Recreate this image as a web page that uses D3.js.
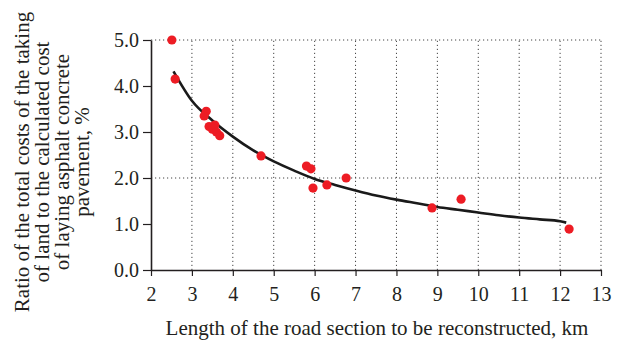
<!DOCTYPE html>
<html>
<head>
<meta charset="utf-8">
<script src="https://cdn.jsdelivr.net/npm/d3@7"></script>
<style>
  body { margin: 0; background: #fff; }
  svg text { font-family: "Liberation Serif", "DejaVu Serif", serif; fill: #231f20; }
</style>
</head>
<body>
<svg id="viz" width="628" height="343"></svg>
<script>
// observed points (length km, ratio %)
const pointX = [2.51, 2.59, 3.35, 3.30, 3.42, 3.50, 3.56, 3.60, 3.68, 4.69, 5.80, 5.91, 5.96, 6.30, 6.77, 8.87, 9.58, 12.22];
const pointY = [5.00, 4.15, 3.45, 3.35, 3.12, 3.06, 3.15, 3.00, 2.92, 2.48, 2.26, 2.20, 1.78, 1.85, 2.00, 1.35, 1.54, 0.89];

// trend line
const trendX = [2.55, 3.0, 3.5, 4.0, 4.5, 5.0, 5.5, 6.0, 6.5, 7.0, 7.5, 8.0, 8.5, 9.0, 9.5, 10.0, 10.5, 11.0, 11.5, 12.0, 12.15];
const trendY = [4.32, 3.68, 3.25, 2.90, 2.60, 2.36, 2.16, 1.98, 1.85, 1.73, 1.62, 1.53, 1.45, 1.37, 1.31, 1.25, 1.19, 1.14, 1.10, 1.06, 1.03];

const xTicks = [2, 3, 4, 5, 6, 7, 8, 9, 10, 11, 12, 13];
const yTicks = [0, 1, 2, 3, 4, 5];
const yGrid = [2, 5];

const yLabelLines = [
    "Ratio of the total costs of the taking",
    "of land to the calculated cost",
    "of laying asphalt concrete",
    "pavement, %"
];
const xLabel = "Length of the road section to be reconstructed, km";

const FONT = "'Liberation Serif', 'DejaVu Serif', serif";
const margin = { top: 40, right: 27, bottom: 73, left: 151 };

const svg = d3.select("#viz");
const width = +svg.attr("width");
const height = +svg.attr("height");

const x = d3.scaleLinear().domain([2, 13]).range([margin.left, width - margin.right]);
const y = d3.scaleLinear().domain([0, 5]).range([height - margin.bottom, margin.top]);

// dotted grid
svg.append("g")
    .selectAll("line")
    .data(xTicks.slice(1))
    .join("line")
    .attr("x1", d => x(d)).attr("x2", d => x(d))
    .attr("y1", y(0)).attr("y2", y(5))
    .attr("stroke", "#444")
    .attr("stroke-width", 1)
    .attr("stroke-dasharray", "1.2,2.8");

svg.append("g")
    .selectAll("line")
    .data(yGrid)
    .join("line")
    .attr("x1", x(2)).attr("x2", x(13))
    .attr("y1", d => y(d)).attr("y2", d => y(d))
    .attr("stroke", "#444")
    .attr("stroke-width", 1)
    .attr("stroke-dasharray", "1.2,2.8");

// axes
const xAxis = svg.append("g")
    .attr("transform", `translate(0,${y(0)})`)
    .call(d3.axisBottom(x).tickValues(xTicks).tickFormat(d3.format("d")).tickSize(6).tickSizeOuter(0).tickPadding(11));

const yAxis = svg.append("g")
    .attr("transform", `translate(${x(2)},0)`)
    .call(d3.axisLeft(y).tickValues(yTicks).tickFormat(d3.format(".1f")).tickSize(8).tickSizeOuter(0).tickPadding(4));

[xAxis, yAxis].forEach(g => {
    g.attr("font-family", null).attr("font-size", null);
    g.select(".domain").attr("stroke", "#231f20").attr("stroke-width", 1.6);
    g.selectAll(".tick line").attr("stroke", "#231f20").attr("stroke-width", 1.2);
    g.selectAll(".tick text")
        .style("font-family", FONT)
        .style("font-size", "20px")
        .attr("fill", "#231f20");
});

// trend line
const line = d3.line()
    .x(d => x(d[0]))
    .y(d => y(d[1]))
    .curve(d3.curveMonotoneX);

svg.append("path")
    .datum(d3.zip(trendX, trendY))
    .attr("fill", "none")
    .attr("stroke", "#1a1a1a")
    .attr("stroke-width", 2.6)
    .attr("d", line);

// points
svg.append("g")
    .selectAll("circle")
    .data(d3.zip(pointX, pointY))
    .join("circle")
    .attr("cx", d => x(d[0]))
    .attr("cy", d => y(d[1]))
    .attr("r", 4.6)
    .attr("fill", "#ed1c24");

// axis labels
svg.append("text")
    .attr("x", (x(2) + x(13)) / 2 + 1)
    .attr("y", 335)
    .attr("text-anchor", "middle")
    .style("font-family", FONT)
    .style("font-size", "21px")
    .text(xLabel);

const yl = svg.append("text")
    .attr("transform", "translate(29,162) rotate(-90)")
    .attr("text-anchor", "middle")
    .style("font-family", FONT)
    .style("font-size", "21px");

yl.selectAll("tspan")
    .data(yLabelLines)
    .join("tspan")
    .attr("x", 0)
    .attr("y", (d, i) => i * 20)
    .text(d => d);
</script>
</body>
</html>
